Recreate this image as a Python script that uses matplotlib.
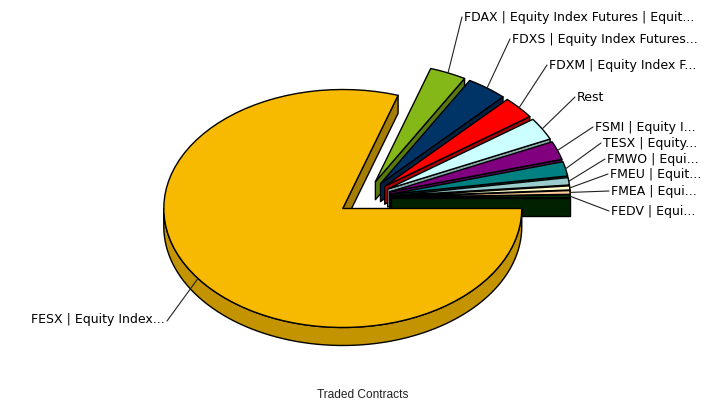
#!/usr/bin/env python3
"""Exploded pseudo-3D pie of traded contracts, drawn from polygons."""

import matplotlib

matplotlib.use("Agg")
import matplotlib.pyplot as plt
import numpy as np
from matplotlib.patches import Polygon

labels = [
    "FESX | Equity Index...",
    "FDAX | Equity Index Futures | Equit...",
    "FDXS | Equity Index Futures...",
    "FDXM | Equity Index F...",
    "Rest",
    "FSMI | Equity I...",
    "TESX | Equity...",
    "FMWO | Equi...",
    "FMEU | Equit...",
    "FMEA | Equi...",
    "FEDV | Equi...",
]
shares = [80.0, 3.3, 3.7, 3.05, 3.05, 2.5, 1.95, 1.0, 0.55, 0.5, 0.4]
top_colors = [
    "#F7BA00", "#84B818", "#003366", "#FF0000", "#CCFFFF", "#800080",
    "#008080", "#99CCCC", "#FFFFCC", "#FFCC99", "#003300",
]
# elbow of each leader line, in pixels
label_anchors = [
    (167, 321), (462, 17), (510, 39), (547, 65), (575, 97), (593, 127),
    (601, 143), (605, 159), (608, 174), (609, 191), (609, 211),
]

CX, CY = 364.5, 198.0
RX, RY = 179.0, 119.0
DEPTH = 18.0
EXPLODE = 0.15


def darker(color, k):
    r, g, b = matplotlib.colors.to_rgb(color)
    return (r * k, g * k, b * k)


def arc(cx, cy, a0, a1, n=80):
    t = np.radians(np.linspace(a0, a1, n))
    return np.column_stack([cx + RX * np.cos(t), cy - RY * np.sin(t)])


def poly(ax, pts, color, z):
    ax.add_patch(Polygon(pts, closed=True, facecolor=color, edgecolor="black",
                         linewidth=1.0, joinstyle="round", zorder=z))


fig = plt.figure(figsize=(7.18, 4.05), dpi=100)
ax = fig.add_axes([0, 0, 1, 1])
ax.set_xlim(0, 718)
ax.set_ylim(405, 0)
ax.axis("off")

# angles run clockwise from 3 o'clock
sweeps = np.array(shares) / sum(shares) * 360.0
ends = -np.cumsum(sweeps)
starts = ends + sweeps
drop = np.array([0, DEPTH])

for i, (a0, a1, color) in enumerate(zip(starts, ends, top_colors)):
    mid = np.radians((a0 + a1) / 2)
    cx = CX + EXPLODE * RX * np.cos(mid)
    cy = CY - EXPLODE * RY * np.sin(mid)
    apex = np.array([cx, cy])
    outer = arc(cx, cy, a0, a1)
    # FESX goes on top of everything, only its end wall sits behind the rest
    z = 20 if i == 0 else 2 + i

    # wall along the clockwise cut edge
    wall = [apex, outer[-1], outer[-1] + drop, apex + drop]
    poly(ax, wall, darker(color, 0.67), 1 if i == 0 else z)

    if i == 0:
        rim = arc(cx, cy, -180, 0)
        poly(ax, np.vstack([rim, (rim + drop)[::-1]]), darker(color, 0.79), z)
    poly(ax, np.vstack([apex, outer]), color, z + 1)

    # leader line from the middle of the outer edge
    start = (cx + RX * np.cos(mid), cy - RY * np.sin(mid))
    elbow = label_anchors[i]
    ax.plot([start[0], elbow[0]], [start[1], elbow[1]], color="#222222",
            linewidth=0.8, zorder=30, solid_capstyle="round")
    left = i == 0
    ax.text(elbow[0] + (-2 if left else 2), elbow[1] - (2 if left else 0) + 0.5,
            labels[i], ha="right" if left else "left", va="center",
            fontsize=9, family="DejaVu Sans", color="black", zorder=31)

ax.text(363, 394.5, "Traded Contracts", ha="center", va="center", fontsize=8.6,
        family="Liberation Sans", color="#222222")

fig.savefig("out.png", dpi=100)
